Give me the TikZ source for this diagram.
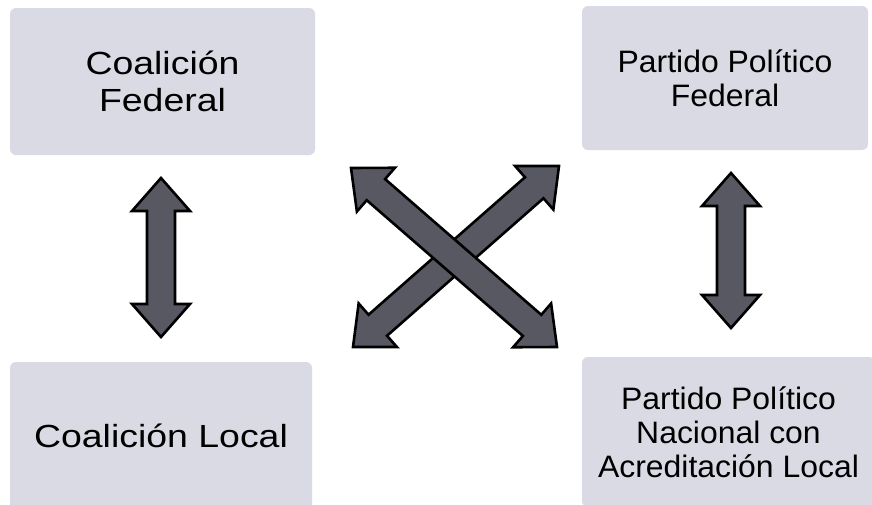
\documentclass[tikz,border=0pt]{standalone}
\usepackage{fontspec}
\setmainfont{Liberation Sans}
\newfontfamily\leftfont[FakeStretch=1.17]{Liberation Sans}
\newfontfamily\rightfont[FakeStretch=1.03]{Liberation Sans}
\usetikzlibrary{calc}
\definecolor{boxfill}{RGB}{218,218,228}
\definecolor{arrfill}{RGB}{88,88,98}
\tikzset{
  panel/.style={fill=boxfill, draw=none, rounded corners=6pt, inner sep=0pt, align=center, text=black},
  leftpanel/.style={panel, font=\leftfont\fontsize{32}{37}\selectfont},
  rightpanel/.style={panel, font=\rightfont\fontsize{31}{34}\selectfont},
  arrowbody/.style={fill=arrfill, draw=black, line width=2.6pt, line join=miter}
}
\newcommand\dblarr[2]{%
  \coordinate (h1) at ($(#1)!33pt!(#2)$);
  \coordinate (h2) at ($(#2)!33pt!(#1)$);
  \draw[arrowbody] (#1) -- ($(h1)!29pt!90:(#2)$) -- ($(h1)!14pt!90:(#2)$)
    -- ($(h2)!14pt!-90:(#1)$) -- ($(h2)!29pt!-90:(#1)$) -- (#2)
    -- ($(h2)!29pt!90:(#1)$) -- ($(h2)!14pt!90:(#1)$)
    -- ($(h1)!14pt!-90:(#2)$) -- ($(h1)!29pt!-90:(#2)$) -- cycle;}
\begin{document}
\begin{tikzpicture}[x=1pt,y=-1pt]
\useasboundingbox (0,0) rectangle (872,504);
\clip (0,0) rectangle (872,504);
\fill[white] (0,0) rectangle (872,504);
% panels
\node[leftpanel, minimum width=305pt, minimum height=147pt] (cf) at (162.5,81.5) {Coalición\\Federal};
\node[rightpanel, minimum width=286pt, minimum height=144pt] (pf) at (725,78) {Partido Político\\Federal};
\node[leftpanel, minimum width=302pt, minimum height=148pt] (cl) at (161,436) {Coalición Local};
\node[rightpanel, minimum width=293pt, minimum height=150pt] (pl) at (728.5,432) {Partido Político\\Nacional con\\Acreditación Local};
% arrow end points
\coordinate (l1) at (161,178);
\coordinate (l2) at (161,337);
\coordinate (r1) at (731,173);
\coordinate (r2) at (731,328);
\coordinate (xa1) at (351,168);
\coordinate (xa2) at (557,347);
\coordinate (xb1) at (353,347);
\coordinate (xb2) at (559,166);
\dblarr{l1}{l2}
\dblarr{r1}{r2}
\dblarr{xb1}{xb2}
\dblarr{xa1}{xa2}
\end{tikzpicture}
\end{document}
